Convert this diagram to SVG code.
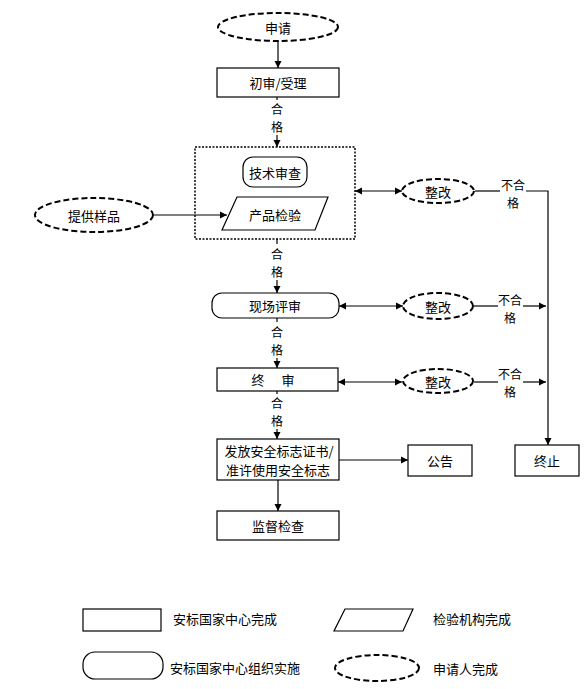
<svg xmlns="http://www.w3.org/2000/svg" width="584" height="689" viewBox="0 0 584 689">
<style>
text{font-family:"Noto Sans CJK SC","Liberation Sans",sans-serif;font-size:13px;fill:#000;dominant-baseline:central}
.c{text-anchor:middle}
.s{font-size:12px}
.b{fill:#fff;stroke:#000;stroke-width:1.2}
.e{fill:#fff;stroke:#000;stroke-width:2;stroke-dasharray:6,3}
.l{fill:none;stroke:#000;stroke-width:1.2}
.dot{fill:none;stroke:#000;stroke-width:1.5;stroke-dasharray:2,1.5}
</style>
<defs>
<marker id="ah" markerWidth="8" markerHeight="8" refX="7" refY="4" orient="auto" markerUnits="userSpaceOnUse"><path d="M0,0.5 L7,4 L0,7.5 Z" fill="#000"/></marker>
<marker id="as" markerWidth="8" markerHeight="8" refX="0" refY="4" orient="auto" markerUnits="userSpaceOnUse"><path d="M7,0.5 L0,4 L7,7.5 Z" fill="#000"/></marker>
</defs>
<rect width="584" height="689" fill="#fff"/>
<g id="connectors">
<line class="l" x1="278" y1="41" x2="278" y2="68" marker-end="url(#ah)"/>
<line class="l" x1="277" y1="97" x2="277" y2="100"/>
<line class="l" x1="277" y1="135" x2="277" y2="147" marker-end="url(#ah)"/>
<text class="c s" x="277" y="108">合</text><text class="c s" x="277" y="126">格</text>
<line class="l" x1="154" y1="215" x2="227" y2="215" marker-end="url(#ah)"/>
<line class="l" x1="277" y1="239" x2="277" y2="244"/>
<line class="l" x1="277" y1="280" x2="277" y2="293" marker-end="url(#ah)"/>
<text class="c s" x="277" y="253">合</text><text class="c s" x="277" y="271">格</text>
<line class="l" x1="277" y1="318" x2="277" y2="322"/>
<line class="l" x1="277" y1="358" x2="277" y2="368" marker-end="url(#ah)"/>
<text class="c s" x="277" y="331">合</text><text class="c s" x="277" y="349">格</text>
<line class="l" x1="277" y1="391" x2="277" y2="394"/>
<line class="l" x1="277" y1="429" x2="277" y2="439" marker-end="url(#ah)"/>
<text class="c s" x="277" y="402">合</text><text class="c s" x="277" y="420">格</text>
<line class="l" x1="355" y1="191" x2="402" y2="191" marker-start="url(#as)" marker-end="url(#ah)"/>
<line class="l" x1="475" y1="191" x2="500" y2="191"/>
<text class="c s" x="513" y="184">不合</text><text class="c s" x="513" y="202">格</text>
<polyline class="l" points="526,191 548,191 548,445" marker-end="url(#ah)"/>
<line class="l" x1="339" y1="306" x2="403" y2="306" marker-start="url(#as)" marker-end="url(#ah)"/>
<line class="l" x1="474" y1="306" x2="498" y2="306"/>
<text class="c s" x="510" y="299">不合</text><text class="c s" x="510" y="317">格</text>
<line class="l" x1="523" y1="306" x2="546" y2="306" marker-end="url(#ah)"/>
<line class="l" x1="338" y1="382" x2="402" y2="382" marker-start="url(#as)" marker-end="url(#ah)"/>
<line class="l" x1="474" y1="382" x2="498" y2="382"/>
<text class="c s" x="510" y="373">不合</text><text class="c s" x="510" y="391">格</text>
<line class="l" x1="523" y1="382" x2="546" y2="382" marker-end="url(#ah)"/>
<line class="l" x1="339" y1="460" x2="408" y2="460" marker-end="url(#ah)"/>
<line class="l" x1="278" y1="480" x2="278" y2="511" marker-end="url(#ah)"/>
</g>
<g id="n-apply"><ellipse class="e" cx="278" cy="27" rx="60" ry="14"/><text class="c" x="278" y="27">申请</text></g>
<g id="n-init"><rect class="b" x="217" y="68" width="122" height="29"/><text class="c" x="278" y="82">初审/受理</text></g>
<g id="n-group"><rect class="dot" x="195" y="147" width="160" height="92"/></g>
<g id="n-tech"><rect class="b" x="243" y="157" width="64" height="30" rx="10"/><text class="c" x="275" y="172">技术审查</text></g>
<g id="n-test"><polygon class="b" points="237,197 328,197 315,230 222,230"/><text class="c" x="275" y="214">产品检验</text></g>
<g id="n-sample"><ellipse class="e" cx="94" cy="215" rx="59" ry="17"/><text class="c" x="94" y="215">提供样品</text></g>
<g id="n-fix1"><ellipse class="e" cx="438" cy="191" rx="36" ry="12"/><text class="c" x="438" y="191">整改</text></g>
<g id="n-site"><rect class="b" x="212" y="293" width="127" height="25" rx="10"/><text class="c" x="275" y="305">现场评审</text></g>
<g id="n-fix2"><ellipse class="e" cx="438" cy="306" rx="35" ry="13"/><text class="c" x="438" y="306">整改</text></g>
<g id="n-final"><rect class="b" x="217" y="368" width="121" height="23"/><text class="c" x="258" y="379">终</text><text class="c" x="288" y="379">审</text></g>
<g id="n-fix3"><ellipse class="e" cx="438" cy="381" rx="35" ry="12"/><text class="c" x="438" y="381">整改</text></g>
<g id="n-issue"><rect class="b" x="217" y="439" width="122" height="41"/><text class="c" x="279" y="450">发放安全标志证书/</text><text class="c" x="278" y="469">准许使用安全标志</text></g>
<g id="n-notice"><rect class="b" x="408" y="445" width="64" height="31"/><text class="c" x="440" y="460">公告</text></g>
<g id="n-stop"><rect class="b" x="515" y="445" width="64" height="31"/><text class="c" x="547" y="460">终止</text></g>
<g id="n-super"><rect class="b" x="217" y="511" width="122" height="29"/><text class="c" x="278" y="525">监督检查</text></g>
<g id="legend">
<rect class="b" x="83" y="609" width="78" height="22"/><text x="173" y="618">安标国家中心完成</text>
<polygon class="b" points="345,609 413,609 403,631 334,631"/><text x="433" y="618">检验机构完成</text>
<rect class="b" x="83" y="652" width="80" height="27" rx="12"/><text x="170" y="667">安标国家中心组织实施</text>
<ellipse class="e" cx="377" cy="668" rx="42" ry="13"/><text x="433" y="668">申请人完成</text>
</g>
</svg>
